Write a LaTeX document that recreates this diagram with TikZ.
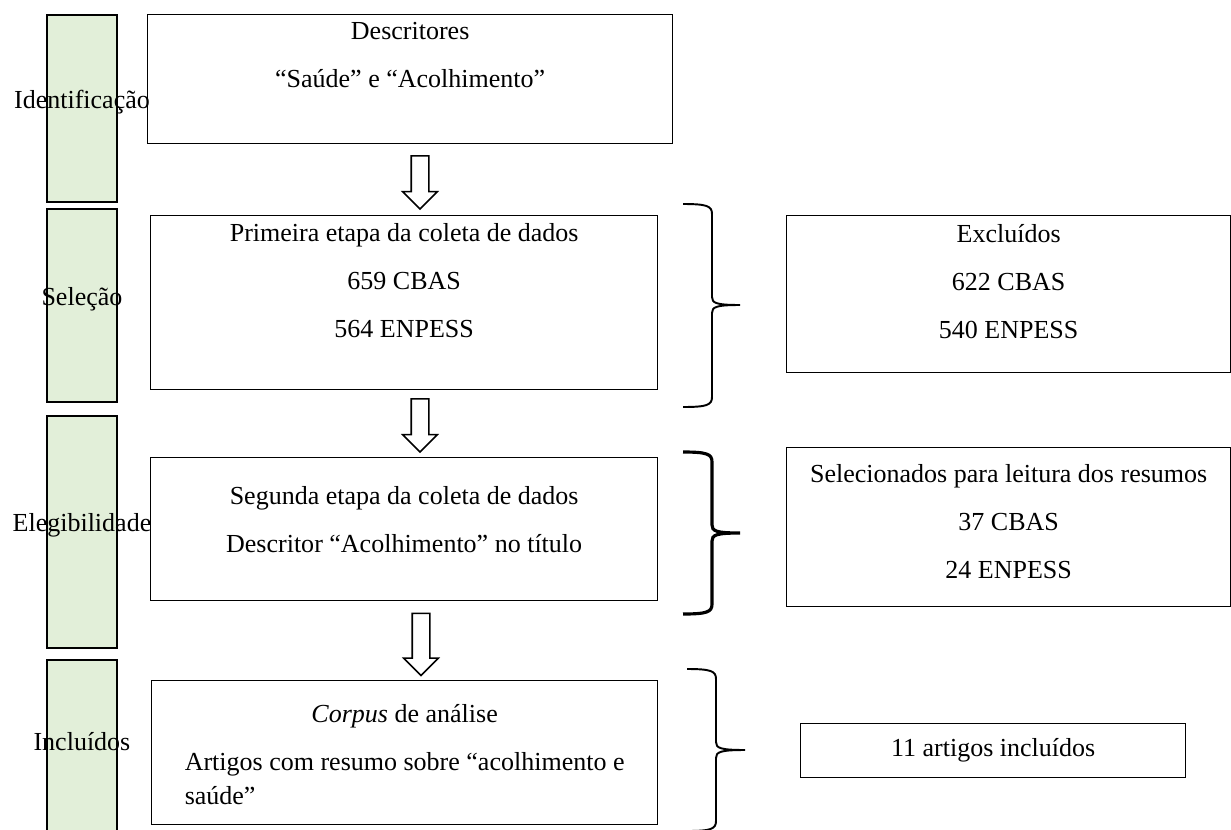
\documentclass[tikz,border=0pt]{standalone}
\usepackage{fontspec}
\setmainfont{Liberation Serif}
\usetikzlibrary{positioning,shapes.arrows}

\definecolor{stagegreen}{HTML}{E2EFD9}

\begin{document}
\begin{tikzpicture}[x=0.02cm, y=-0.02cm,
	stagebar/.style={rectangle, draw, line width=1.1pt, fill=stagegreen, anchor=north west, minimum width=1.4cm},
	stagetxt/.style={font=\fontsize{14.8}{19.4}\selectfont, inner sep=0, anchor=base},
	flowbox/.style={rectangle, draw, line width=0.8pt, anchor=north west},
	flowtxt/.style={font=\fontsize{14.8}{19.4}\selectfont, align=center, inner sep=0},
	downarrow/.style={single arrow, draw, line width=0.9pt, rotate=-90, inner xsep=0, inner ysep=0.16cm, single arrow head extend=0.17cm, single arrow head indent=0, minimum height=1.06cm},
	curly/.style={line width=1.1pt}]
	\useasboundingbox (0,0) rectangle (1231,829);
	\clip (0,0) rectangle (1231,829);

	% stages on the left
	\node[stagebar, minimum height=3.74cm] (s1) at (46,14) {};
	\node[stagebar, minimum height=3.86cm] (s2) at (46,208) {};
	\node[stagebar, minimum height=4.64cm] (s3) at (46,415) {};
	\node[stagebar, minimum height=3.64cm] (s4) at (46,659) {};

	\node[stagetxt] (l1) at (s1.center) {Identificação};
	\node[stagetxt] (l2) at (s2.center) {Seleção};
	\node[stagetxt] (l3) at (s3.center) {Elegibilidade};
	\node[stagetxt] (l4) at (s4.center) {Incluídos};

	% main column
	\node[flowbox, minimum width=10.5cm, minimum height=2.58cm] (b1) at (147,14) {};
	\node[flowbox, minimum width=10.14cm, minimum height=3.48cm] (b2) at (150,215) {};
	\node[flowbox, minimum width=10.14cm, minimum height=2.86cm] (b3) at (150,457) {};
	\node[flowbox, minimum width=10.12cm, minimum height=2.88cm] (b4) at (151,680) {};

	\node[flowtxt, below=0.16cm of b1.north] (t1) {Descritores\\[0.28cm]“Saúde” e “Acolhimento”};
	\node[flowtxt, below=0.16cm of b2.north] (t2) {Primeira etapa da coleta de dados\\[0.28cm]659 CBAS\\[0.28cm]564 ENPESS};
	\node[flowtxt, below=0.58cm of b3.north] (t3) {Segunda etapa da coleta de dados\\[0.28cm]Descritor “Acolhimento” no título};
	\node[flowtxt, below=0.48cm of b4.north] (t4) {\textit{Corpus} de análise\\[0.28cm]Artigos com resumo sobre “acolhimento e\\\rlap{saúde”}\phantom{Artigos com resumo sobre “acolhimento e}};

	\node[downarrow] (a1) at (420,178) {};
	\node[downarrow] (a2) at (420,421) {};
	\node[downarrow, minimum height=1.24cm] (a3) at (421,640) {};

	% results on the right
	\node[flowbox, minimum width=8.88cm, minimum height=3.14cm] (exc) at (786,215) {};
	\node[flowbox, minimum width=8.88cm, minimum height=3.18cm] (sel) at (786,447) {};
	\node[flowbox, minimum width=7.7cm, minimum height=1.08cm] (inc) at (800,723) {};

	\node[flowtxt, below=0.18cm of exc.north] (te) {Excluídos\\[0.28cm]622 CBAS\\[0.28cm]540 ENPESS};
	\node[flowtxt, below=0.34cm of sel.north] (ts) {Selecionados para leitura dos resumos\\[0.28cm]37 CBAS\\[0.28cm]24 ENPESS};
	\node[flowtxt] (ti) at (inc.center) {11 artigos incluídos};

	% braces
	\draw[curly] (683,204) .. controls (707,204) and (712,206) .. (712,214) -- (712,297) .. controls (712,303) and (716,305) .. (740,305) .. controls (716,305) and (712,307) .. (712,313) -- (712,397) .. controls (712,405) and (707,407) .. (683,407);
	\draw[curly, line width=1.8pt] (683,452) .. controls (707,452) and (712,454) .. (712,462) -- (712,525) .. controls (712,531) and (716,533) .. (740,533) .. controls (716,533) and (712,535) .. (712,541) -- (712,604) .. controls (712,612) and (707,614) .. (683,614);
	\draw[curly] (687,669) .. controls (711,669) and (716,671) .. (716,679) -- (716,742) .. controls (716,748) and (720,750) .. (745,750) .. controls (720,750) and (716,752) .. (716,758) -- (716,821) .. controls (716,829) and (711,831) .. (687,831);
\end{tikzpicture}
\end{document}
